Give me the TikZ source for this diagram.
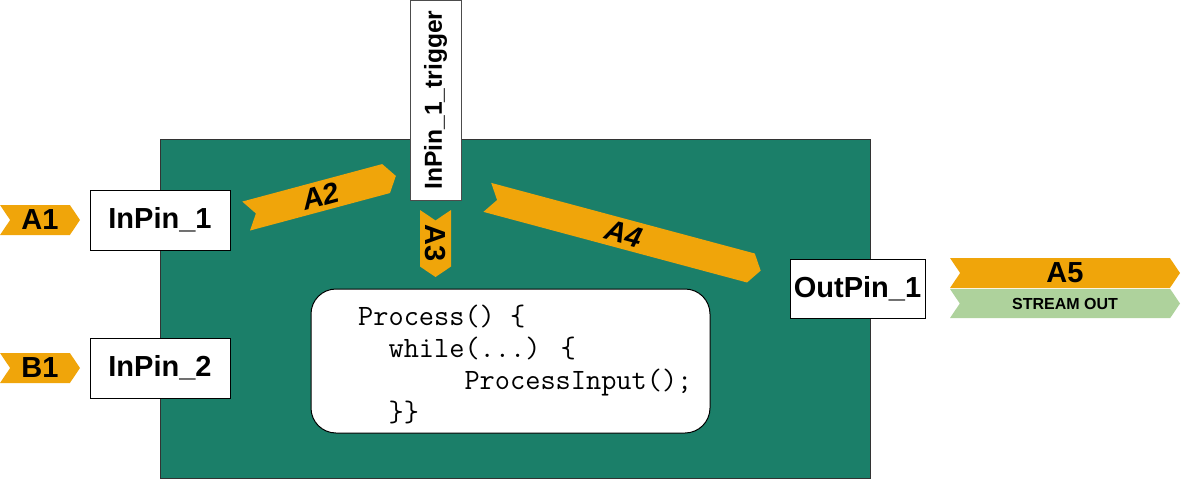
\documentclass[tikz,border=0pt]{standalone}
\usepackage{fontspec}
\setmainfont{Liberation Sans}
\usetikzlibrary{shapes.symbols}
\definecolor{blockgreen}{RGB}{27,127,105}
\definecolor{flagorange}{RGB}{240,165,10}
\definecolor{streamgreen}{RGB}{174,210,156}
\tikzset{
  pinbox/.style={draw=black, line width=1pt, fill=white, inner sep=0pt,
    font=\fontsize{29}{32}\selectfont\bfseries},
  flag/.style={signal, signal to=east, signal from=west, signal pointer angle=112,
    fill=flagorange, inner sep=0pt, minimum height=30pt,
    font=\fontsize{29}{32}\selectfont\bfseries},
}

\begin{document}
\begin{tikzpicture}[x=1pt, y=-1pt]
		%%%%% START %%%%%
		\useasboundingbox (0,0) rectangle (1181,479);
		
		\node[draw=black!80, line width=1pt, fill=blockgreen, minimum width=710pt, minimum height=339pt] (block) at (515,308.5) {};
		
		\node[draw=black, line width=1pt, fill=white, rounded corners=25pt, minimum width=399pt, minimum height=144pt] (proc) at (510.5,361) {};
		\node[anchor=west, inner sep=0pt, align=left, font=\fontsize{29.5}{32}\selectfont\ttfamily] (proctext) at (358,364)
			{Process() \{\\
			 \hphantom{xx}while(...) \{\\
			 \hphantom{xxxxxxx}ProcessInput();\\
			 \hphantom{xx}\}\}};
		
		\node[pinbox, minimum width=140pt, minimum height=60pt] (inpin1) at (160,220) {InPin\_1};
		\node[pinbox, minimum width=140pt, minimum height=60pt] (inpin2) at (160,368) {InPin\_2};
		\node[pinbox, minimum width=135pt, minimum height=59pt] (outpin1) at (857.5,288.5) {OutPin\_1};
		\node[pinbox, draw=black!70, rotate=90, minimum width=200pt, minimum height=51pt,
			font=\fontsize{24.6}{28}\selectfont\bfseries] (trigger) at (435.5,100) {InPin\_1\_trigger};
		
		\node[flag, minimum width=80pt] (a1) at (40,220) {A1};
		\node[flag, minimum width=80pt] (b1) at (40,368) {B1};
		
		\node[flag, rotate=15, minimum width=155pt, font=\fontsize{29}{32}\selectfont\bfseries\itshape] (a2) at (321,196) {A2};
		\node[flag, rotate=-90, minimum width=67pt, minimum height=31pt] (a3) at (435.5,243.5) {A3};
		\node[flag, rotate=-15, minimum width=283pt, font=\fontsize{29}{32}\selectfont\bfseries\itshape] (a4) at (624,234) {A4};
		
		\node[flag, minimum width=230pt] (a5) at (1065,273) {A5};
		\node[flag, fill=streamgreen, minimum width=230pt, minimum height=29pt,
			font=\fontsize{16}{18}\selectfont\bfseries] (streamout) at (1065,303.5) {STREAM OUT};
		
		%%%%% END %%%%%
\end{tikzpicture}
\end{document}
